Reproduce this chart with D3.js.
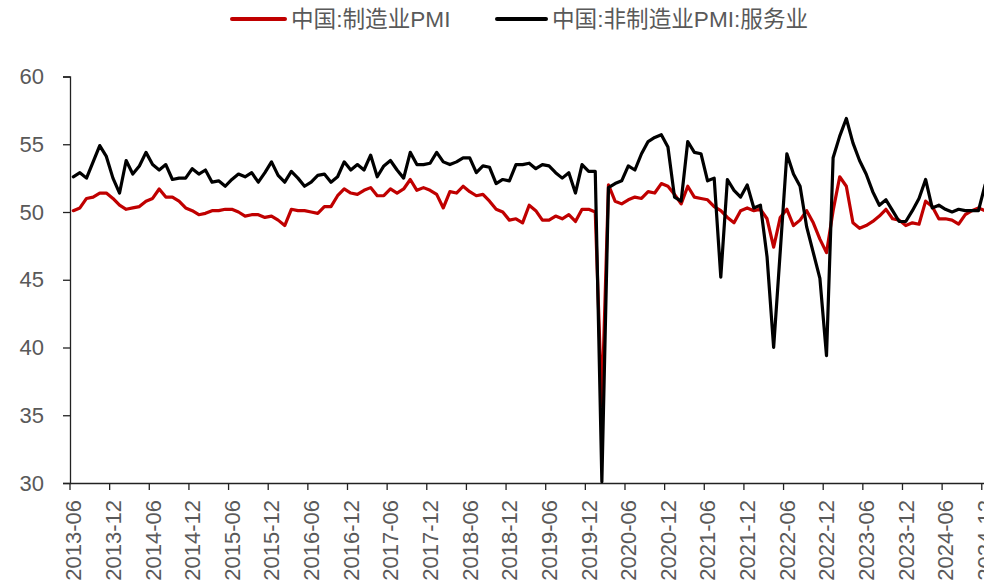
<!DOCTYPE html>
<html>
<head>
<meta charset="utf-8">
<script src="https://cdn.jsdelivr.net/npm/d3@7"></script>
<style>
  html, body { margin: 0; padding: 0; background: #fff; }
  svg { display: block; }
  text { font-family: "Liberation Sans", "Noto Sans CJK SC", sans-serif; fill: #595959; }
</style>
</head>
<body>
<svg id="chart" width="984" height="587"></svg>
<script>
// Monthly series, 2013-06 .. 2024-12
const firstMonth = new Date(2013, 5, 1);
const lastMonth = new Date(2024, 11, 1);

const seriesNames = ["中国:制造业PMI", "中国:非制造业PMI:服务业"];
const seriesColors = ["#C00000", "#000000"];

// 中国:制造业PMI
const manufacturing = [
  50.1, 50.3, 51.0, 51.1, 51.4, 51.4, 51.0,
  50.5, 50.2, 50.3, 50.4, 50.8, 51.0, 51.7, 51.1, 51.1, 50.8, 50.3, 50.1,
  49.8, 49.9, 50.1, 50.1, 50.2, 50.2, 50.0, 49.7, 49.8, 49.8, 49.6, 49.7,
  49.4, 49.0, 50.2, 50.1, 50.1, 50.0, 49.9, 50.4, 50.4, 51.2, 51.7, 51.4,
  51.3, 51.6, 51.8, 51.2, 51.2, 51.7, 51.4, 51.7, 52.4, 51.6, 51.8, 51.6,
  51.3, 50.3, 51.5, 51.4, 51.9, 51.5, 51.2, 51.3, 50.8, 50.2, 50.0, 49.4,
  49.5, 49.2, 50.5, 50.1, 49.4, 49.4, 49.7, 49.5, 49.8, 49.3, 50.2, 50.2,
  50.0, 35.7, 52.0, 50.8, 50.6, 50.9, 51.1, 51.0, 51.5, 51.4, 52.1, 51.9,
  51.3, 50.6, 51.9, 51.1, 51.0, 50.9, 50.4, 50.1, 49.6, 49.2, 50.1, 50.3,
  50.1, 50.2, 49.5, 47.4, 49.6, 50.2, 49.0, 49.4, 50.1, 49.2, 48.0, 47.0,
  50.1, 52.6, 51.9, 49.2, 48.8, 49.0, 49.3, 49.7, 50.2, 49.5, 49.4, 49.0,
  49.2, 49.1, 50.8, 50.4, 49.5, 49.5, 49.4, 49.1, 49.8, 50.1, 50.3, 50.1
];

// 中国:非制造业PMI:服务业
const services = [
  52.6, 52.9, 52.5, 53.7, 54.9, 54.1, 52.5,
  51.4, 53.8, 52.8, 53.4, 54.4, 53.5, 53.1, 53.5, 52.4, 52.5, 52.5, 53.2,
  52.8, 53.1, 52.2, 52.3, 51.9, 52.4, 52.8, 52.6, 52.9, 52.2, 52.9, 53.7,
  52.7, 52.2, 53.0, 52.5, 51.9, 52.2, 52.7, 52.8, 52.2, 52.6, 53.7, 53.1,
  53.5, 53.1, 54.2, 52.6, 53.4, 53.8, 53.1, 52.5, 54.4, 53.5, 53.5, 53.6,
  54.4, 53.7, 53.5, 53.7, 54.0, 54.0, 52.9, 53.4, 53.3, 52.1, 52.4, 52.3,
  53.5, 53.5, 53.6, 53.2, 53.5, 53.4, 52.9, 52.5, 52.9, 51.4, 53.5, 53.0,
  53.0, 30.1, 51.8, 52.1, 52.3, 53.4, 53.1, 54.3, 55.2, 55.5, 55.7, 54.8,
  51.1, 50.8, 55.2, 54.4, 54.3, 52.3, 52.5, 45.2, 52.4, 51.6, 51.1, 52.0,
  50.3, 50.5, 46.7, 40.0, 47.1, 54.3, 52.8, 51.9, 48.9, 47.0, 45.1, 39.4,
  54.0, 55.6, 56.9, 55.1, 53.8, 52.8, 51.5, 50.5, 50.9, 50.1, 49.3, 49.3,
  50.1, 51.0, 52.4, 50.3, 50.5, 50.2, 50.0, 50.2, 50.1, 50.1, 50.1, 52.0
];

const yTicks = [30, 35, 40, 45, 50, 55, 60];
const xTickLabels = [
  "2013-06", "2013-12", "2014-06", "2014-12", "2015-06", "2015-12",
  "2016-06", "2016-12", "2017-06", "2017-12", "2018-06", "2018-12",
  "2019-06", "2019-12", "2020-06", "2020-12", "2021-06", "2021-12",
  "2022-06", "2022-12", "2023-06", "2023-12", "2024-06", "2024-12"
];

const fmt = d3.timeFormat("%Y-%m");
const months = d3.timeMonths(firstMonth, d3.timeMonth.offset(lastMonth, 1)).map(fmt);

const svg = d3.select("#chart");
const plotLeft = 70, plotTop = 76.5, plotBottom = 483;
const step = 6.607;

const x = d3.scaleBand()
  .domain(months)
  .range([plotLeft, plotLeft + months.length * step])
  .paddingInner(0).paddingOuter(0);
const y = d3.scaleLinear().domain([30, 60]).range([plotBottom, plotTop]);
const bw = x.bandwidth();

// Y axis
const yAxis = svg.append("g")
  .attr("transform", `translate(${plotLeft},0)`)
  .call(d3.axisLeft(y).tickValues(yTicks).tickSize(7).tickPadding(19).tickFormat(d3.format("d")));
yAxis.select(".domain").attr("stroke", "#222").attr("stroke-width", 1.3);
yAxis.selectAll(".tick line").attr("stroke", "#222").attr("stroke-width", 1.3);
yAxis.selectAll(".tick text")
  .style("font-size", "22px").attr("fill", "#595959");

// X axis: tick marks on category boundaries, labels under category centres
const xAxis = svg.append("g")
  .attr("transform", `translate(0,${plotBottom})`)
  .call(d3.axisBottom(x).tickValues(xTickLabels).tickSize(7).tickSizeOuter(0));
xAxis.select(".domain").attr("stroke", "#222").attr("stroke-width", 1.3);
xAxis.selectAll(".tick line")
  .attr("stroke", "#222").attr("stroke-width", 1.3)
  .attr("x1", -bw / 2).attr("x2", -bw / 2);
xAxis.selectAll(".tick text")
  .style("font-size", "22px").attr("fill", "#595959")
  .attr("text-anchor", "end")
  .attr("transform", "translate(0,17) rotate(-90)")
  .attr("x", 0).attr("y", 0).attr("dy", "0.36em");

// Series lines
const line = d3.line()
  .x((d, i) => x(months[i]) + bw / 2)
  .y(d => y(d));

[manufacturing, services].forEach((vals, k) => {
  svg.append("path")
    .datum(vals)
    .attr("fill", "none")
    .attr("stroke", seriesColors[k])
    .attr("stroke-width", 3.2)
    .attr("stroke-linejoin", "round")
    .attr("stroke-linecap", "round")
    .attr("d", line);
});

// Legend
const legendItems = [
  { x0: 232, x1: 285, tx: 291 },
  { x0: 497, x1: 546, tx: 552 }
];
legendItems.forEach((it, k) => {
  const g = svg.append("g");
  g.append("line")
    .attr("x1", it.x0).attr("x2", it.x1).attr("y1", 19).attr("y2", 19)
    .attr("stroke", seriesColors[k]).attr("stroke-width", 4)
    .attr("stroke-linecap", "round");
  g.append("text")
    .attr("x", it.tx).attr("y", 19).attr("dy", "0.36em")
    .style("font-size", "22.6px")
    .text(seriesNames[k]);
});
</script>
</body>
</html>
